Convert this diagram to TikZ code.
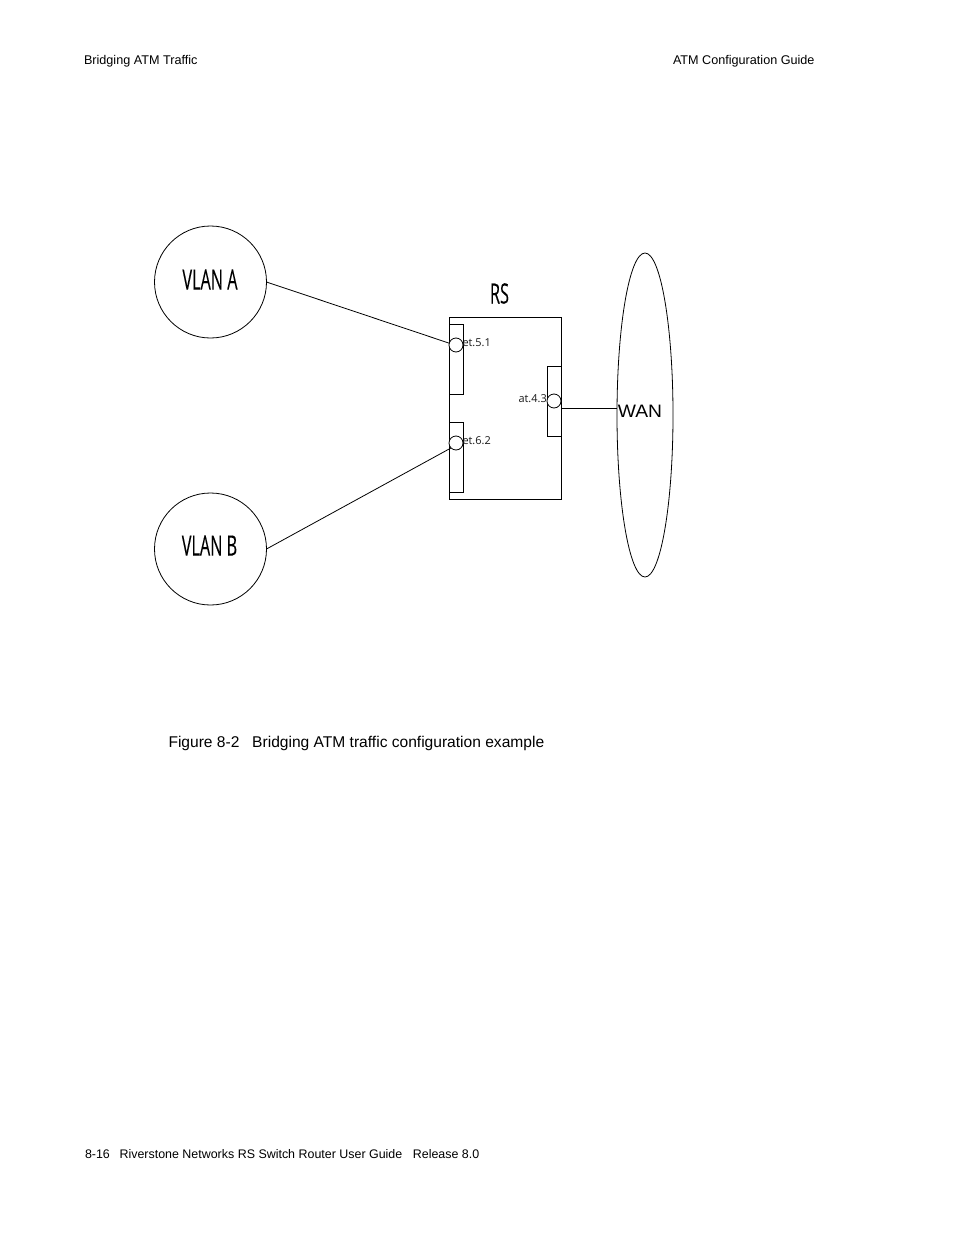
\documentclass[tikz,border=0pt]{standalone}
\usepackage{fontspec}
\setmainfont{Liberation Sans}
\newfontfamily\opensans{Open Sans}
\newfontfamily\opensansheavy[FakeBold=0.2]{Open Sans}
\usetikzlibrary{shapes.geometric}
\tikzset{
  pagetext/.style={inner sep=0pt,outer sep=0pt,font=\fontsize{9.47pt}{11pt}\selectfont,anchor=base west},
  footertext/.style={inner sep=0pt,outer sep=0pt,font=\fontsize{9.33pt}{11pt}\selectfont,anchor=base west},
  captext/.style={inner sep=0pt,outer sep=0pt,font=\fontsize{11.68pt}{13pt}\selectfont,anchor=base west},
  lan/.style={circle,draw,line width=.6pt,minimum size=84pt,inner sep=0pt,outer sep=0pt},
  biglab/.style={inner sep=0pt,font=\opensansheavy\fontsize{21pt}{23pt}\selectfont,xscale=.58},
  portbox/.style={rectangle,draw,line width=.7pt,inner sep=0pt,outer sep=0pt,fill=white},
  porthole/.style={circle,draw,line width=.6pt,minimum size=10.5pt,inner sep=0pt,outer sep=0pt,fill=white},
  portlab/.style={inner sep=0pt,outer sep=0pt,font=\opensans\fontsize{8.2pt}{9pt}\selectfont,text=black!90,anchor=base west},
  link/.style={line width=.6pt},
}
\begin{document}
\begin{tikzpicture}[x=.75pt,y=-.75pt]
\useasboundingbox[fill=white] (0,0) rectangle (954,1235);
\node[pagetext] (h1) at (84,64) {Bridging ATM Traffic};
\node[pagetext] (h2) at (673,64) {ATM Configuration Guide};
\node[footertext] (f1) at (85,1158) {8-16\hspace{.78em}Riverstone Networks RS Switch Router User Guide\hspace{.85em}Release 8.0};
\node[captext] (c1) at (168.5,747) {Figure 8-2\hspace{.82em}Bridging ATM traffic configuration example};

\node[lan] (vlana) at (210.5,282) {};
\node[lan] (vlanb) at (210.5,549) {};
\node[biglab] (la) at (210,279.5) {VLAN A};
\node[biglab] (lb) at (209.5,545.5) {VLAN B};

\node[rectangle,draw,line width=.7pt,minimum width=84pt,minimum height=136.5pt,inner sep=0pt,outer sep=0pt] (rs) at (505.25,408.25) {};
\node[biglab] (lrs) at (499.5,293.5) {RS};
\node[portbox,minimum width=10.5pt,minimum height=52.5pt] (b51) at (456.5,359.5) {};
\node[portbox,minimum width=10.5pt,minimum height=52.5pt] (b62) at (456.5,457.5) {};
\node[portbox,minimum width=10.5pt,minimum height=52.5pt] (b43) at (554.25,401.5) {};
\node[porthole] (p51) at (456,345) {};
\node[porthole] (p62) at (456,443) {};
\node[porthole] (p43) at (554,401) {};
\node[portlab] (t51) at (462.5,346) {et.5.1};
\node[portlab] (t62) at (462.5,444) {et.6.2};
\node[portlab] (t43) at (518.5,402) {at.4.3};

\node[ellipse,draw,line width=.6pt,minimum width=42pt,minimum height=243pt,inner sep=0pt,outer sep=0pt] (wan) at (645,415) {};
\node[inner sep=0pt,font=\fontsize{13.5pt}{15pt}\selectfont,xscale=1.07,anchor=base] (lw) at (640,417) {WAN};

\coordinate (wanstart) at (b43.east |- 0,408);
\draw[link] (vlana.east) -- (p51.165);
\draw[link] (vlanb.east) -- (p62.225);
\draw[link] (wanstart) -- (wanstart -| wan.west);
\end{tikzpicture}
\end{document}
